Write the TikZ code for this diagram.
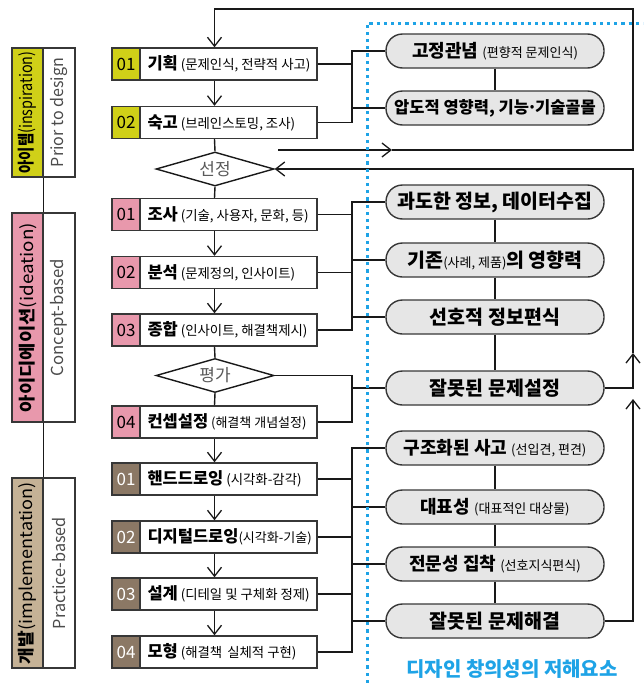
\documentclass[tikz,border=0pt]{standalone}
\usepackage{fontspec}
\usepackage{graphicx}
\setmainfont{Noto Sans CJK KR}
\usetikzlibrary{arrows.meta,shapes.geometric}
\definecolor{cY}{RGB}{208,208,24}
\definecolor{cP}{RGB}{232,152,172}
\definecolor{cB}{RGB}{139,120,101}
\definecolor{cT}{RGB}{197,178,150}
\definecolor{pillgray}{RGB}{230,230,230}
\definecolor{cBlue}{RGB}{30,163,230}
\definecolor{edge}{RGB}{55,55,55}
\newcommand\SMain[1]{{\fontsize{16.5}{18}\selectfont\bfseries #1}}
\newcommand\SSub[1]{{\fontsize{13.4}{15}\selectfont\mdseries #1}}
\newcommand\SSubT[1]{{\fontsize{13}{14}\selectfont\mdseries #1}}
\newcommand\PSub[1]{{\fontsize{13}{14}\selectfont\mdseries #1}}
\newcommand\CatFit[2]{\resizebox{#1pt}{\height}{#2}}
\tikzset{
  conn/.style={line width=1.4pt, draw=black!90},
  barb/.tip={Straight Barb[length=9pt,width=14pt,line width=1.3pt]},
  arr/.style={conn,-barb},
  stepbox/.style={draw=edge, line width=1.4pt, fill=white, minimum width=205, minimum height=32, inner sep=0},
  numbox/.style={draw=edge, line width=1.4pt, minimum width=28, minimum height=32, inner sep=0, anchor=west, font=\fontsize{17}{17}\selectfont},
  steptext/.style={anchor=west, inner sep=0, font=\fontsize{13}{14}\selectfont},
  pill/.style={draw=edge, line width=1.4pt, fill=pillgray, rounded corners=16.5pt, minimum width=218, minimum height=34, inner sep=0, font=\fontsize{19.5}{21}\selectfont\bfseries},
  pillsm/.style={pill, font=\fontsize{18}{20}\selectfont\bfseries},
  dia/.style={diamond, draw=black!90, line width=1.4pt, minimum width=118, minimum height=34, inner sep=0, aspect=3.5, fill=white, font=\fontsize{17}{17}\selectfont, text=black!65},
  catcol/.style={draw=edge, line width=1.4pt, minimum width=31, inner sep=0},
  catwhite/.style={draw=edge, line width=1.4pt, minimum width=32, inner sep=0, fill=white},
  cattext/.style={rotate=90, inner sep=0, font=\fontsize{17}{17}\selectfont},
  catgray/.style={cattext, text=black!70, font=\fontsize{16.5}{17}\selectfont},
  bluedot/.style={draw=cBlue, line width=3pt, dash pattern=on 3.2pt off 4pt},
}
\begin{document}
\begin{tikzpicture}[x=1pt,y=-1pt]
\useasboundingbox (0,0) rectangle (643,683);

% ---------- category boxes ----------
\node[catcol, fill=cY, minimum height=129] (c1a) at (27.5,112.5) {};
\node[catwhite, minimum height=129] (c1b) at (59,112.5) {};
\node[cattext] at (c1a) {\CatFit{122}{\textbf{아이템}(inspiration)}};
\node[catgray] at (c1b) {\CatFit{109}{Prior to design}};

\node[catcol, fill=cP, minimum height=209] (c2a) at (27.5,317.5) {};
\node[catwhite, minimum height=209] (c2b) at (59,317.5) {};
\node[cattext] at (c2a) {\CatFit{189}{\textbf{아이디에이션}(ideation)}};
\node[catgray] at (c2b) {\CatFit{117}{Concept-based}};

\node[catcol, fill=cT, minimum height=190] (c3a) at (27.5,573) {};
\node[catwhite, minimum height=190] (c3b) at (59,573) {};
\node[cattext] at (c3a) {\CatFit{182}{\textbf{개발}(implementation)}};
\node[catgray] at (c3b) {\CatFit{112}{Practice-based}};

\draw[conn] (c1a.south east) -- (c2a.north east);
\draw[conn] (c2a.south east) -- (c3a.north east);

% ---------- step boxes ----------
\node[stepbox] (s1) at (214.5,64) {};
\node[numbox, fill=cY] (n1) at (s1.west) {01};
\node[steptext] (t1) at ([xshift=36]s1.west) {\SMain{기획} \SSub{(문제인식, 전략적 사고)}};

\node[stepbox] (s2) at (214.5,122.5) {};
\node[numbox, fill=cY] (n2) at (s2.west) {02};
\node[steptext] (t2) at ([xshift=36]s2.west) {\SMain{숙고} \SSub{(브레인스토밍, 조사)}};

\node[dia] (d1) at (215,169) {선정};

\node[stepbox] (s3) at (214.5,214.5) {};
\node[numbox, fill=cP] (n3) at (s3.west) {01};
\node[steptext] (t3) at ([xshift=36]s3.west) {\SMain{조사} \SSub{(기술, 사용자, 문화, 등)}};

\node[stepbox] (s4) at (214.5,272.5) {};
\node[numbox, fill=cP] (n4) at (s4.west) {02};
\node[steptext] (t4) at ([xshift=36]s4.west) {\SMain{분석} \SSub{(문제정의, 인사이트)}};

\node[stepbox] (s5) at (214.5,330) {};
\node[numbox, fill=cP] (n5) at (s5.west) {03};
\node[steptext] (t5) at ([xshift=36]s5.west) {\SMain{종합} \SSub{(인사이트, 해결책제시)}};

\node[dia] (d2) at (215,375.5) {평가};

\node[stepbox] (s6) at (214.5,422) {};
\node[numbox, fill=cP] (n6) at (s6.west) {04};
\node[steptext] (t6) at ([xshift=36]s6.west) {\SMain{컨셉설정} \SSubT{(해결책 개념설정)}};

\node[stepbox] (s7) at (214.5,479) {};
\node[numbox, fill=cB, text=white] (n7) at (s7.west) {01};
\node[steptext] (t7) at ([xshift=36]s7.west) {\SMain{핸드드로잉} \SSub{(시각화-감각)}};

\node[stepbox] (s8) at (214.5,537) {};
\node[numbox, fill=cB, text=white] (n8) at (s8.west) {02};
\node[steptext] (t8) at ([xshift=36]s8.west) {\SMain{디지털드로잉}\SSubT{(시각화-기술)}};

\node[stepbox] (s9) at (214.5,594) {};
\node[numbox, fill=cB, text=white] (n9) at (s9.west) {03};
\node[steptext] (t9) at ([xshift=36]s9.west) {\SMain{설계} \SSub{(디테일 및 구체화 정제)}};

\node[stepbox] (s10) at (214.5,652) {};
\node[numbox, fill=cB, text=white] (n10) at (s10.west) {04};
\node[steptext] (t10) at ([xshift=36]s10.west) {\SMain{모형} \SSub{(해결책\hspace{5pt}실체적 구현)}};

% ---------- main flow ----------
\draw[arr] (s1.south) -- (s2.north);
\draw[conn] (s2.south) -- (d1.north);
\draw[conn] (d1.south) -- (s3.north);
\draw[arr] (s3.south) -- (s4.north);
\draw[arr] (s4.south) -- (s5.north);
\draw[conn] (s5.south) -- (d2.north);
\draw[conn] (d2.south) -- (s6.north);
\draw[arr] (s6.south) -- (s7.north);
\draw[arr] (s7.south) -- (s8.north);
\draw[arr] (s8.south) -- (s9.north);
\draw[arr] (s9.south) -- (s10.north);

% ---------- pills ----------
\node[pillsm] (p1) at (495,51) {고정관념 \PSub{(편향적 문제인식)}};
\node[pill, font=\fontsize{16.5}{18}\selectfont\bfseries] (p2) at (495,108) {압도적 영향력, 기능\kern-2pt·\kern-2pt기술골몰};
\node[pill] (p3) at (495,202) {과도한 정보, 데이터수집};
\node[pill] (p4) at (495,260) {기존\PSub{(사례, 제품)}의 영향력};
\node[pill] (p5) at (495,317) {선호적 정보편식};
\node[pill] (p6) at (495,388) {잘못된 문제설정};
\node[pillsm] (p7) at (495,448) {구조화된 사고 \PSub{(선입견, 편견)}};
\node[pillsm] (p8) at (495,507) {대표성 \PSub{(대표적인 대상물)}};
\node[pillsm] (p9) at (495,564) {전문성 집착 \PSub{(선호지식편식)}};
\node[pill] (p10) at (495,621) {잘못된 문제해결};

\draw[conn] (p1.south) -- (p2.north);
\draw[conn] (p3.south) -- (p4.north);
\draw[conn] (p4.south) -- (p5.north);
\draw[conn] (p5.south) -- (p6.north);
\draw[conn] (p7.south) -- (p8.north);
\draw[conn] (p8.south) -- (p9.north);
\draw[conn] (p9.south) -- (p10.north);

% ---------- buses ----------
\coordinate (busx) at (352,0);
\draw[conn] (s1.east) -- (s1.east -| busx);
\draw[conn] (p1.west) -| (busx |- s2.east) -- (s2.east);
\draw[conn] (p2.west) -- (p2.west -| busx);

\draw[conn] (p3.west) -| (busx |- s5.east) -- (s5.east);
\draw[conn] (s3.east) -- (s3.east -| busx);
\draw[conn] (s4.east) -- (s4.east -| busx);
\draw[conn] (p4.west) -- (p4.west -| busx);
\draw[conn] (p5.west) -- (p5.west -| busx);

\draw[conn] (d2.east) -| (busx |- s6.east) -- (s6.east);
\draw[conn] (p6.west) -- (p6.west -| busx);

\draw[conn] (p7.west) -| (busx |- s10.east) -- (s10.east);
\draw[conn] (s7.east) -- (s7.east -| busx);
\draw[conn] (s8.east) -- (s8.east -| busx);
\draw[conn] (s9.east) -- (s9.east -| busx);
\draw[conn] (p8.west) -- (p8.west -| busx);
\draw[conn] (p9.west) -- (p9.west -| busx);
\draw[conn] (p10.west) -- (p10.west -| busx);

% ---------- feedback loops ----------
\coordinate (rx) at (633,0);
\coordinate (topy) at (0,9);
\coordinate (lstart) at (278,150);
\coordinate (lmid) at (392,150);
\coordinate (up1) at (633,353);
\coordinate (up2) at (633,399);
\draw[arr] (lstart) -- (lmid);
\draw[arr] (lmid) -- (lstart -| rx) -- (rx |- topy) -- (s1.north |- topy) -- (s1.north);
\draw[arr] (p6.east) -| (up1);
\draw[arr] (up1) |- (d1.east);
\draw[arr] (p10.east) -| (up2);

% ---------- blue dotted frame ----------
\draw[bluedot] (367,683) -- (367,23) -- (643,23);
\node[text=cBlue, font=\fontsize{20}{22}\selectfont\bfseries, inner sep=0] (title) at (512,669) {디자인 창의성의 저해요소};
\end{tikzpicture}
\end{document}
